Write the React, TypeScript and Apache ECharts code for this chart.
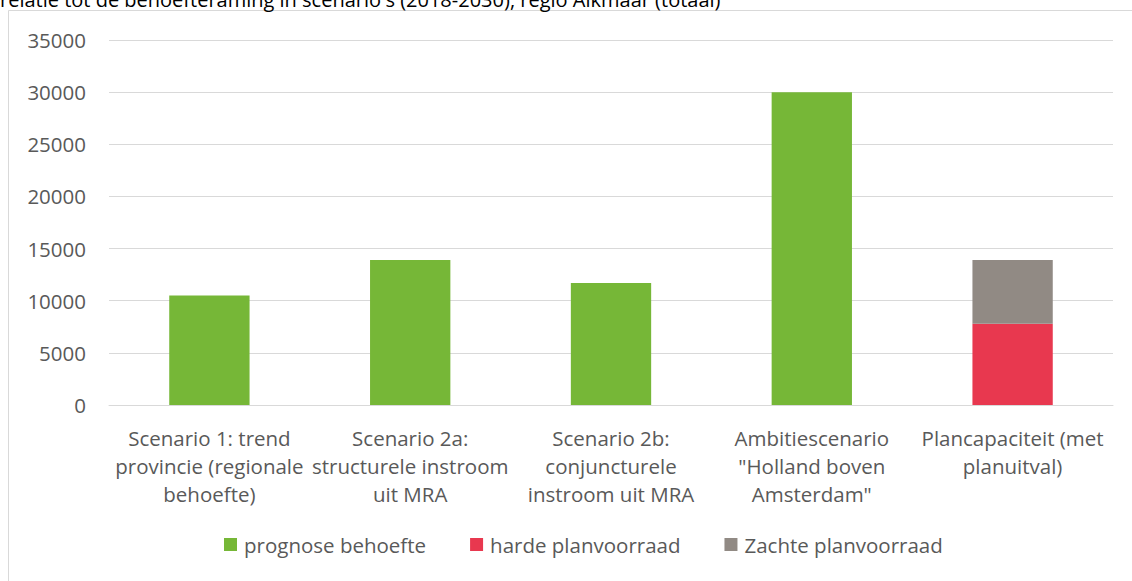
import React, { useEffect, useRef } from "react";
import * as echarts from "echarts";

const title = "relatie tot de behoefteraming in scenario's (2018-2030), regio Alkmaar (totaal)";
const categories = [
  "Scenario 1: trend\nprovincie (regionale\nbehoefte)",
  "Scenario 2a:\nstructurele instroom\nuit MRA",
  "Scenario 2b:\nconjuncturele\ninstroom uit MRA",
  "Ambitiescenario\n\"Holland boven\nAmsterdam\"",
  "Plancapaciteit (met\nplanuitval)",
];
const prognose = [10500, 13900, 11700, 30000, null];
const harde = [null, null, null, null, 7800];
const zachte = [null, null, null, null, 6100];
const seriesNames = ["prognose behoefte", "harde planvoorraad", "Zachte planvoorraad"];
const colors = ["#76B737", "#E8384F", "#918A84"];

const FONT = "Open Sans";

export default function App() {
  const ref = useRef<HTMLDivElement>(null);
  useEffect(() => {
    if (!ref.current) return;
    const chart = echarts.init(ref.current, null, { renderer: "svg" });
    chart.setOption({
      animation: false,
      backgroundColor: "#ffffff",
      textStyle: { fontFamily: FONT },
      graphic: [
        {
          type: "rect",
          shape: { x: 8.5, y: 10.5, width: 1300, height: 800 },
          style: { fill: "none", stroke: "#d9d9d9", lineWidth: 1 },
          silent: true,
        },
        {
          type: "text",
          x: 0,
          y: 9,
          style: {
            text: title,
            fill: "#000000",
            font: `20px "${FONT}"`,
            verticalAlign: "bottom",
          },
        },
      ],
      grid: { left: 109, right: 19, top: 40, bottom: 176, containLabel: false },
      legend: {
        bottom: 21,
        left: 219,
        itemWidth: 13,
        itemHeight: 13,
        itemGap: 44,
        icon: "rect",
        textStyle: { color: "#595959", fontSize: 20.5, fontFamily: FONT, padding: [0, 0, 0, 2] },
        data: seriesNames,
      },
      xAxis: {
        type: "category",
        data: categories,
        axisLine: { show: true, lineStyle: { color: "#d9d9d9", width: 1 } },
        axisTick: { show: false },
        axisLabel: {
          interval: 0,
          color: "#595959",
          fontSize: 20.5,
          fontFamily: FONT,
          lineHeight: 28,
          margin: 19,
        },
      },
      yAxis: {
        type: "value",
        min: 0,
        max: 35000,
        interval: 5000,
        axisLine: { show: false },
        axisTick: { show: false },
        splitLine: { lineStyle: { color: "#d9d9d9", width: 1 } },
        axisLabel: {
          color: "#595959",
          fontSize: 20.5,
          fontFamily: FONT,
          margin: 23,
          formatter: (v: number) => String(v),
        },
      },
      series: [
        { name: seriesNames[0], type: "bar", stack: "total", data: prognose, barWidth: "40%", itemStyle: { color: colors[0] } },
        { name: seriesNames[1], type: "bar", stack: "total", data: harde, barWidth: "40%", itemStyle: { color: colors[1] } },
        { name: seriesNames[2], type: "bar", stack: "total", data: zachte, barWidth: "40%", itemStyle: { color: colors[2] } },
      ],
    });
    return () => chart.dispose();
  }, []);
  return (
    <div
      ref={ref}
      style={{ position: "absolute", left: 0, top: 0, width: 1132, height: 581 }}
    />
  );
}
